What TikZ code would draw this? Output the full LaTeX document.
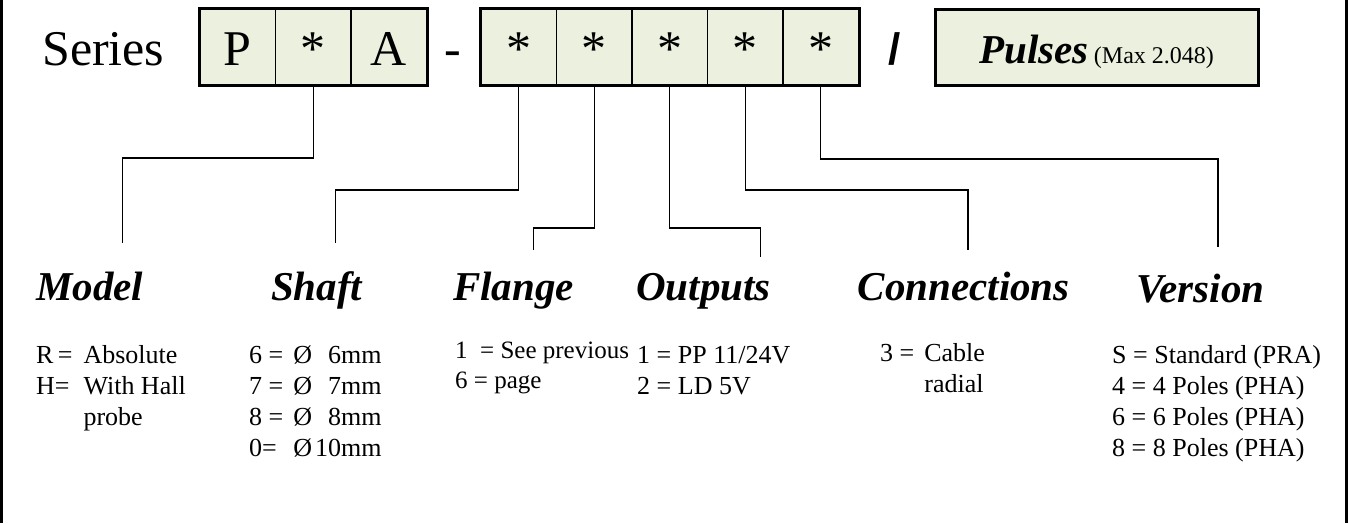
\documentclass[tikz,border=0pt]{standalone}
\usepackage{fontspec}
\setmainfont{Liberation Serif}
\setsansfont{Liberation Sans}
\definecolor{cellgreen}{HTML}{EBF1DE}
\tikzset{
  cell/.style={draw,line width=1.2pt,fill=cellgreen,minimum width=75.5pt,minimum height=75.5pt,inner sep=0pt,text height=35.5pt,text depth=0pt,font=\fontsize{50}{50}\selectfont},
  head/.style={anchor=base west,inner sep=0pt,font=\fontsize{41}{41}\selectfont\bfseries\itshape},
  info/.style={anchor=base west,inner sep=0pt,font=\fontsize{26}{31}\selectfont},
  lead/.style={line width=1.3pt}
}
\begin{document}
\begin{tikzpicture}[x=1pt,y=-1pt]
  \useasboundingbox (0,0) rectangle (1349,523);
  \draw[line width=2.5pt] (1.5,0) -- (1.5,523) (1346.5,0) -- (1346.5,523);
  \node[anchor=base west,inner sep=0pt,font=\fontsize{50}{50}\selectfont] (series) at (42,65) {Series};
  \foreach \nm/\x/\t in {p/237.75/P,s1/313.25/*,a/388.75/A} \node[cell] (\nm) at (\x,47.25) {\t};
  \foreach \i in {1,...,5} \node[cell] (u\i) at ({481+75.5*(\i-.5)},47.25) {*};
  \draw[line width=3pt] (p.north west) rectangle (a.south east) (u1.north west) rectangle (u5.south east);
  \node[anchor=base,inner sep=0pt,font=\fontsize{50}{50}\selectfont] (dash) at (453,65) {-};
  \node[anchor=base,inner sep=0pt,font=\fontsize{44}{44}\sffamily\bfseries] (slash) at (895,64) {/};
  \node[draw,line width=3pt,fill=cellgreen,minimum width=322.5pt,minimum height=75.5pt,inner sep=0pt,text height=31.5pt,text depth=0pt] (pulses) at (1096.75,47.25)
    {{\fontsize{41}{41}\selectfont\bfseries\itshape Pulses}\ \ {\fontsize{24}{24}\selectfont(Max 2.048)}};
  \path (122.8,243) coordinate (mdl) (335.7,243) coordinate (shf) (533.5,250) coordinate (flg)
    (760.7,257) coordinate (out) (968,250) coordinate (con) (1218,247) coordinate (ver);
  \foreach \c/\e/\h in {s1/mdl/158,u1/shf/190,u2/flg/228,u3/out/228,u4/con/190,u5/ver/159}
    \draw[lead] (\c.south) -- (\c.south |- 0,\h) -| (\e);
  \node[head] (model) at (36,300) {Model};
  \node[head] (shaft) at (271,300) {Shaft};
  \node[head] (flange) at (453,300) {Flange};
  \node[head] (outputs) at (636,300) {Outputs};
  \node[head] (connections) at (857.6,300) {Connections};
  \node[head] (version) at (1136.6,302) {Version};
  \node[info] (modeltxt) at (36,363) {\begin{tabular}[t]{@{}l@{\hskip 11pt}l@{}}R\,= & Absolute\\ H= & With Hall\\ & probe\end{tabular}};
  \node[info] (shafttxt) at (249,363) {\begin{tabular}[t]{@{}l@{\hskip 10pt}l@{\hskip 3pt}r@{}}6 = & Ø & 6mm\\ 7 = & Ø & 7mm\\ 8 = & Ø & 8mm\\ 0= & Ø & 10mm\end{tabular}};
  \node[info,font=\fontsize{25}{30}\selectfont] (flangetxt) at (455,358) {\begin{tabular}[t]{@{}l@{}}1\ \ = See previous\\ 6 = page\end{tabular}};
  \node[info] (outputstxt) at (637,363) {\begin{tabular}[t]{@{}l@{}}1 = PP 11/24V\\ 2 = LD 5V\end{tabular}};
  \node[info] (connectionstxt) at (880,361) {\begin{tabular}[t]{@{}l@{\hskip 10pt}l@{}}3 = & Cable\\ & radial\end{tabular}};
  \node[info] (versiontxt) at (1112,363) {\begin{tabular}[t]{@{}l@{}}S = Standard (PRA)\\ 4 = 4 Poles (PHA)\\ 6 = 6 Poles (PHA)\\ 8 = 8 Poles (PHA)\end{tabular}};
\end{tikzpicture}
\end{document}
